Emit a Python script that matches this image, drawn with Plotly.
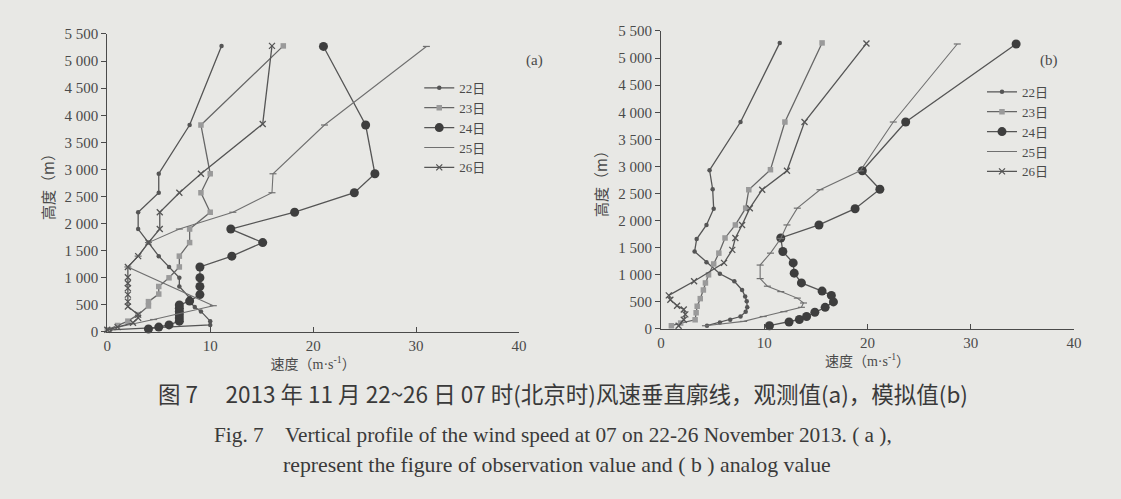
import plotly.graph_objects as go

# ---------------- data: panel (a) observation ----------------
a22_x = [0.3, 10.0, 10.0, 9.1, 8.5, 8.0, 8.0, 7.0, 7.0, 6.0, 5.0, 4.0, 3.0, 3.0, 5.0, 5.0, 8.0, 11.1]
a22_h = [40, 130, 200, 380, 460, 560, 630, 840, 1000, 1200, 1400, 1650, 1900, 2210, 2570, 2920, 3820, 5280]

a23_x = [0.0, 1.0, 2.0, 3.0, 4.0, 4.0, 5.0, 5.0, 6.0, 7.0, 7.0, 8.0, 8.0, 10.0, 9.1, 10.0, 9.1, 17.1]
a23_h = [40, 120, 200, 320, 480, 560, 700, 840, 1000, 1200, 1400, 1650, 1900, 2210, 2570, 2920, 3820, 5280]

a24_x = [4.0, 5.0, 6.0, 7.0, 7.0, 7.0, 7.0, 7.0, 7.0, 8.0, 9.0, 9.0, 9.0, 9.0, 12.1, 15.1, 12.0, 18.2, 24.0, 26.0, 25.1, 21.0]
a24_h = [55, 90, 130, 200, 260, 320, 380, 440, 500, 570, 690, 840, 1000, 1200, 1400, 1650, 1900, 2210, 2570, 2920, 3820, 5270]

a25_x = [0.3, 4.5, 10.3, 2.0, 3.0, 4.0, 7.0, 12.2, 16.0, 16.1, 21.1, 31.0]
a25_h = [60, 230, 485, 1200, 1400, 1650, 1900, 2210, 2570, 2920, 3820, 5270]

a26_x = [0.0, 1.0, 2.5, 3.0, 3.0, 2.0, 2.0, 2.0, 2.0, 2.0, 2.0, 2.0, 3.0, 4.0, 5.1, 5.1, 7.0, 9.1, 15.1, 16.0]
a26_h = [40, 90, 170, 260, 320, 470, 560, 690, 810, 900, 1010, 1200, 1400, 1650, 1900, 2210, 2570, 2920, 3840, 5280]

# ---------------- data: panel (b) simulation ----------------
b22_x = [4.45, 5.7, 6.7, 7.7, 8.2, 8.35, 8.3, 8.15, 7.85, 7.1, 5.7, 4.4, 3.25, 3.45, 4.4, 5.1, 5.0, 4.7, 7.7, 11.5]
b22_h = [60, 120, 170, 230, 320, 400, 510, 600, 720, 880, 1020, 1230, 1430, 1660, 1920, 2220, 2580, 2930, 3820, 5280]

b23_x = [1.0, 1.9, 3.3, 3.4, 3.5, 3.8, 4.1, 4.3, 4.6, 5.1, 5.6, 6.2, 7.2, 8.2, 8.5, 10.6, 12.0, 15.6]
b23_h = [60, 110, 170, 300, 420, 560, 720, 850, 1000, 1200, 1400, 1680, 1920, 2230, 2570, 2940, 3820, 5280]

b24_x = [10.5, 12.4, 13.4, 14.1, 14.9, 15.9, 16.7, 16.5, 15.6, 13.6, 12.9, 12.8, 11.8, 11.6, 15.3, 18.8, 21.2, 19.5, 23.7, 34.4]
b24_h = [60, 130, 175, 230, 310, 400, 500, 620, 700, 850, 1030, 1220, 1430, 1680, 1920, 2220, 2580, 2920, 3820, 5260]

b25_x = [4.3, 8.0, 9.9, 11.9, 13.6, 13.8, 13.2, 11.6, 10.3, 9.6, 9.6, 10.6, 11.6, 12.2, 13.2, 15.4, 19.3, 22.5, 28.7]
b25_h = [60, 140, 230, 320, 400, 480, 570, 690, 790, 930, 1180, 1400, 1670, 1920, 2230, 2570, 2920, 3820, 5260]

b26_x = [1.7, 2.2, 2.35, 2.2, 1.55, 0.9, 0.75, 3.2, 6.1, 6.9, 7.2, 7.85, 8.6, 9.8, 12.2, 13.9, 19.9]
b26_h = [60, 170, 270, 360, 430, 540, 620, 880, 1220, 1460, 1680, 1920, 2230, 2570, 2920, 3820, 5270]

series_names = ["22日", "23日", "24日", "25日", "26日"]
y_ticks = [0, 500, 1000, 1500, 2000, 2500, 3000, 3500, 4000, 4500, 5000, 5500]
y_ticktext = ["0", "500", "1 000", "1 500", "2 000", "2 500", "3 000", "3 500",
              "4 000", "4 500", "5 000", "5 500"]
x_ticks = [0, 10, 20, 30, 40]

# ---------------- styles ----------------
BG = "#e8e8e5"
INK = "#4a4a4a"
LINE = "#555555"
GRAY = "#9a9a9a"
SERIF = "'Liberation Serif', 'Noto Sans CJK SC', serif"
CJK = "'Noto Sans CJK SC', sans-serif"

styles = {
    "22日": dict(line=dict(color=LINE, width=1.3), marker=dict(symbol="circle", size=4.5, color=LINE)),
    "23日": dict(line=dict(color="#666666", width=1.3), marker=dict(symbol="square", size=5.5, color=GRAY)),
    "24日": dict(line=dict(color=LINE, width=1.3), marker=dict(symbol="circle", size=9, color="#3e3e3e")),
    "25日": dict(line=dict(color="#707070", width=1.1), marker=dict(symbol="line-ew", size=5, color="#707070", line=dict(width=1.2, color="#707070"))),
    "26日": dict(line=dict(color=LINE, width=1.3), marker=dict(symbol="x-thin", size=6, color=LINE, line=dict(width=1.3, color=LINE))),
}

fig = go.Figure()

panel_a = [(a22_x, a22_h), (a23_x, a23_h), (a24_x, a24_h), (a25_x, a25_h), (a26_x, a26_h)]
panel_b = [(b22_x, b22_h), (b23_x, b23_h), (b24_x, b24_h), (b25_x, b25_h), (b26_x, b26_h)]

for name, (xs, hs) in zip(series_names, panel_a):
    fig.add_trace(go.Scatter(x=xs, y=hs, mode="lines+markers", name=name,
                             xaxis="x", yaxis="y", legend="legend", cliponaxis=False,
                             **styles[name]))
for name, (xs, hs) in zip(series_names, panel_b):
    fig.add_trace(go.Scatter(x=xs, y=hs, mode="lines+markers", name=name,
                             xaxis="x2", yaxis="y2", legend="legend2", cliponaxis=False,
                             **styles[name]))

axis_common = dict(showgrid=False, zeroline=False, showline=True, linecolor=INK, linewidth=1.3,
                   tickcolor=INK, tickwidth=1.2, ticklen=5, automargin=False,
                   tickfont=dict(family=SERIF, size=15, color=INK))

xtitle = dict(text="速度（m·s<sup>-1</sup>）", font=dict(family=SERIF, size=14, color=INK), standoff=2)
ytitle = dict(text="高度（m）", font=dict(family=CJK, size=15, color=INK), standoff=6)

fig.update_layout(
    width=1121, height=499,
    margin=dict(l=0, r=0, t=0, b=0, autoexpand=False),
    paper_bgcolor=BG, plot_bgcolor=BG,
    xaxis=dict(domain=[0.0957, 0.463], range=[0, 40], tickvals=x_ticks, ticks="inside",
               anchor="y", title=xtitle, **axis_common),
    yaxis=dict(domain=[0.3347, 0.9319], range=[0, 5500], tickvals=y_ticks, ticktext=y_ticktext,
               ticks="outside", anchor="x", title=ytitle, **axis_common),
    xaxis2=dict(domain=[0.5897, 0.958], range=[0, 40], tickvals=x_ticks, ticks="inside",
                anchor="y2", title=xtitle, **axis_common),
    yaxis2=dict(domain=[0.3407, 0.9379], range=[0, 5500], tickvals=y_ticks, ticktext=y_ticktext,
                ticks="outside", anchor="x2", title=ytitle, **axis_common),
    legend=dict(x=0.374, y=0.854, xanchor="left", yanchor="top", bgcolor="rgba(0,0,0,0)",
                font=dict(family=SERIF, size=13, color=INK), itemwidth=30, tracegroupgap=0),
    legend2=dict(x=0.876, y=0.846, xanchor="left", yanchor="top", bgcolor="rgba(0,0,0,0)",
                 font=dict(family=SERIF, size=13, color=INK), itemwidth=30, tracegroupgap=0),
    showlegend=True,
)

annos = [
    dict(text="(a)", x=0.477, y=1 - 50 / 499, xref="paper", yref="paper", showarrow=False,
         font=dict(family=SERIF, size=15, color=INK)),
    dict(text="(b)", x=0.946, y=1 - 50 / 499, xref="paper", yref="paper", showarrow=False,
         font=dict(family=SERIF, size=15, color=INK)),
    dict(text="图 7　 2013 年 11 月 22~26 日 07 时(北京时)风速垂直廓线，观测值(a)，模拟值(b)",
         x=0.502, y=1 - 411 / 499, xref="paper", yref="paper", showarrow=False,
         font=dict(family=CJK, size=22.5, color="#3a3a3a")),
    dict(text="Fig. 7　Vertical profile of the wind speed at 07 on 22-26 November 2013. ( a ),",
         x=0.493, y=1 - 449 / 499, xref="paper", yref="paper", showarrow=False,
         font=dict(family=SERIF, size=21.3, color="#3a3a3a")),
    dict(text="represent the figure of observation value and ( b ) analog value",
         x=0.497, y=1 - 479 / 499, xref="paper", yref="paper", showarrow=False,
         font=dict(family=SERIF, size=21.8, color="#3a3a3a")),
]
fig.update_layout(annotations=annos)

fig.write_html("out.html")
